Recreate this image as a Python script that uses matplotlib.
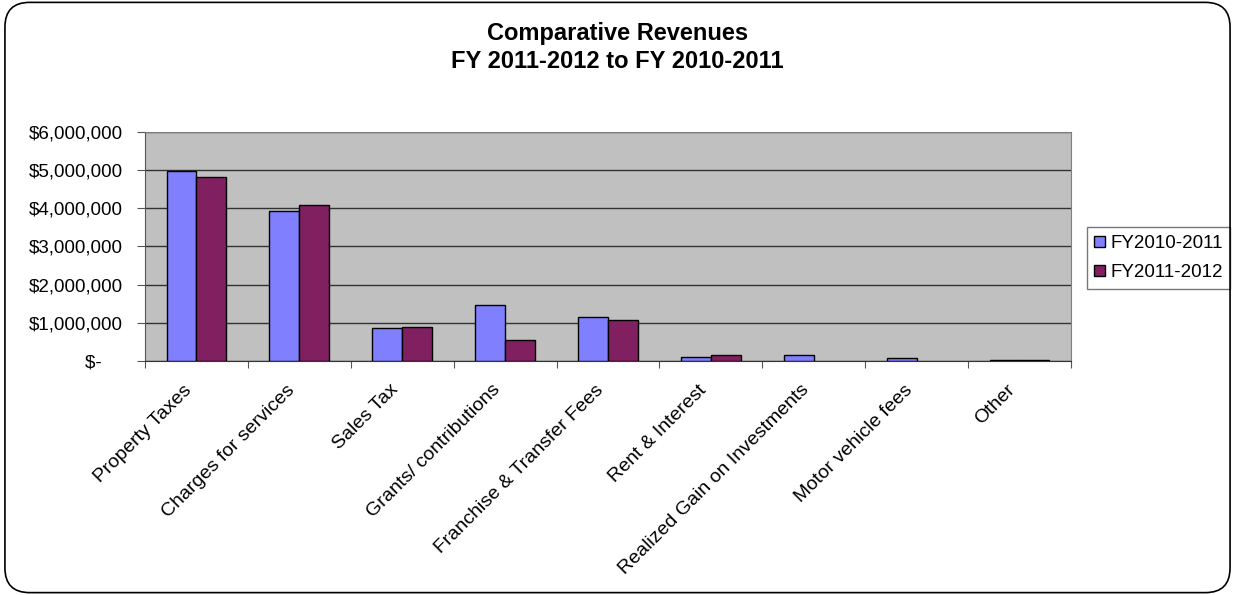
import numpy as np
import matplotlib
matplotlib.use("Agg")
import matplotlib.pyplot as plt
from matplotlib.patches import FancyBboxPatch
from matplotlib.ticker import FuncFormatter
from matplotlib.transforms import ScaledTranslation

plt.rcParams['font.family'] = ['Liberation Sans', 'DejaVu Sans']

# data
categories = ['Property Taxes', 'Charges for services', 'Sales Tax',
              'Grants/ contributions', 'Franchise & Transfer Fees',
              'Rent & Interest', 'Realized Gain on Investments',
              'Motor vehicle fees', 'Other']
fy2011 = [4990000, 3930000, 860000, 1470000, 1160000, 110000, 150000, 80000, 30000]
fy2012 = [4830000, 4080000, 890000, 540000, 1080000, 150000, 0, 0, 30000]
series_names = ['FY2010-2011', 'FY2011-2012']
yticks = [0, 1000000, 2000000, 3000000, 4000000, 5000000, 6000000]


def money(v, pos):
    if v == 0:
        return '$-    '
    return '${:,.0f}'.format(v)


fig = plt.figure(figsize=(12.35, 5.95), dpi=100)
ax = fig.add_axes([0.1174, 0.3933, 0.7498, 0.3849])

x = np.arange(len(categories))
w = 0.29
for vals, off, col, name in [(fy2011, -w / 2, '#8080FF', series_names[0]),
                             (fy2012, w / 2, '#802060', series_names[1])]:
    bars = ax.bar(x + off, vals, w, color=col, edgecolor='black', linewidth=1,
                  label=name, zorder=3)
    # empty values leave no outline behind
    for b, v in zip(bars, vals):
        if v == 0:
            b.set_visible(False)

ax.set_facecolor('#C0C0C0')
ax.set_xlim(-0.5, len(categories) - 0.5)
ax.set_ylim(0, 6000000)
ax.set_yticks(yticks)
ax.yaxis.set_major_formatter(FuncFormatter(money))
ax.grid(axis='y', color='#333333', linewidth=1, zorder=1)
ax.set_axisbelow(True)

# category boundary ticks, labels centred under each pair
ax.set_xticks(np.arange(len(categories) + 1) - 0.5)
ax.set_xticklabels([])
ax.tick_params(axis='x', which='major', direction='out', length=5, color='#555555')
ax.set_xticks(x, minor=True)
ax.set_xticklabels(categories, minor=True, rotation=45, ha='right', va='bottom',
                   rotation_mode='anchor', fontsize=14)
ax.tick_params(axis='x', which='minor', length=0, pad=9)
shift = ScaledTranslation(-0.01, -0.20, fig.dpi_scale_trans)
for lab in ax.get_xticklabels(minor=True):
    lab.set_transform(lab.get_transform() + shift)
ax.tick_params(axis='y', direction='out', length=6, color='#555555',
               labelsize=13.5, pad=10)

for s in ['top', 'right']:
    ax.spines[s].set_color('#808080')
ax.spines['left'].set_color('#555555')
ax.spines['bottom'].set_color('#333333')

fig.text(0.5, 0.933, 'Comparative Revenues', ha='center', va='baseline',
         fontsize=17, fontweight='bold')
fig.text(0.5, 0.886, 'FY 2011-2012 to FY 2010-2011', ha='center', va='baseline',
         fontsize=17, fontweight='bold')

leg = ax.legend(loc='center left', bbox_to_anchor=(1.017, 0.45), fontsize=13.5,
                frameon=True, fancybox=False, handlelength=0.55, handleheight=0.55,
                handletextpad=0.3, borderpad=0.4, labelspacing=0.65,
                borderaxespad=0)
leg.get_frame().set_edgecolor('#555555')
leg.get_frame().set_linewidth(1)

border = FancyBboxPatch((0.004, 0.004), 0.992, 0.992,
                        boxstyle='round,pad=0,rounding_size=0.02',
                        transform=fig.transFigure, fill=False,
                        edgecolor='black', linewidth=1.2, mutation_aspect=2.07)
fig.patches.append(border)

fig.savefig('out.png', dpi=100)
